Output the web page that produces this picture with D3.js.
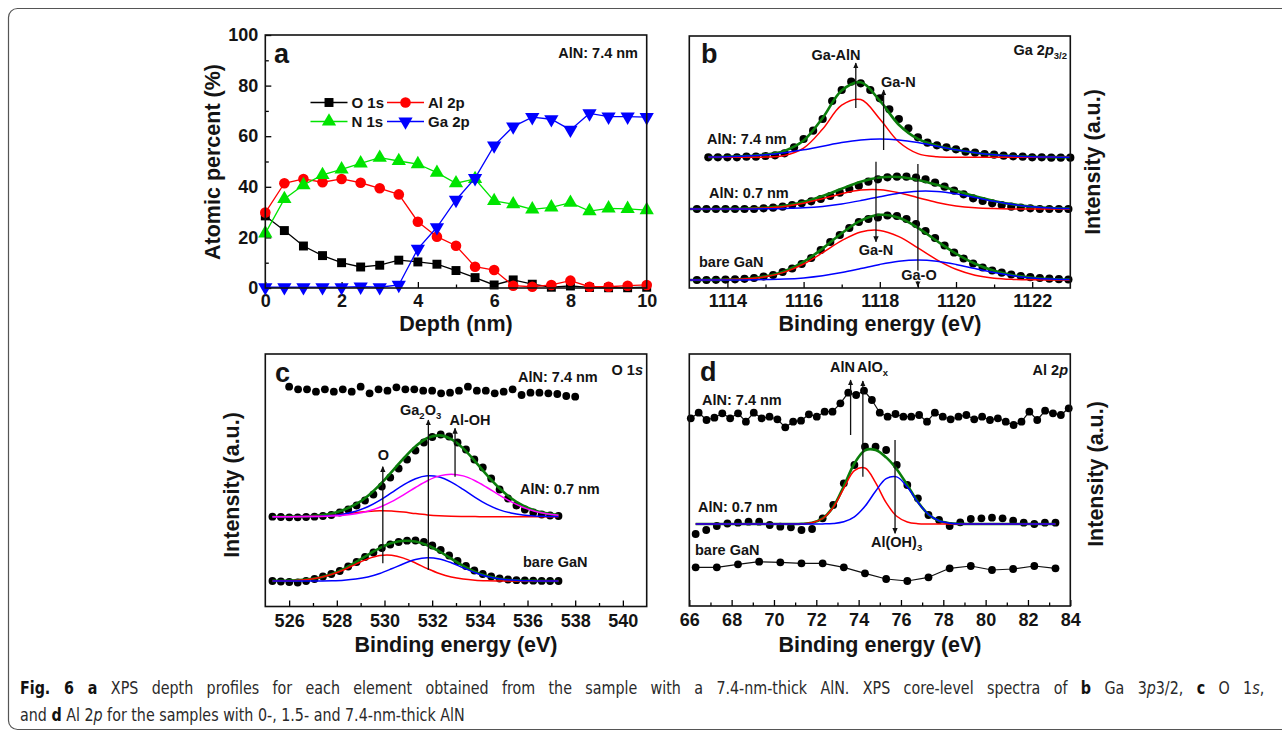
<!DOCTYPE html>
<html>
<head>
<meta charset="utf-8">
<title>Fig. 6 XPS</title>
<script src="https://cdn.jsdelivr.net/npm/d3@7/dist/d3.min.js"></script>
<style>
  body { margin: 0; background: #fff; }
  svg text { font-family: "Liberation Sans", Arial, sans-serif; font-weight: bold; fill: #141414; }
  svg text.caption { font-family: "Liberation Sans Narrow", "DejaVu Sans Condensed", "Liberation Sans", sans-serif; font-weight: normal; fill: #2a2a2a; }
</style>
</head>
<body>
<svg id="fig" width="1282" height="732"></svg>
<script>
// ---- panel a: depth profile (atomic %)
var depthNm = [0, 0.5, 1, 1.5, 2, 2.5, 3, 3.5, 4, 4.5, 5, 5.5, 6, 6.5, 7, 7.5, 8, 8.5, 9, 9.5, 10];
var o1s  = [28.5, 22.7, 16.6, 12.8, 10, 8.3, 9, 11, 10.3, 9.4, 6.9, 4.1, 1.2, 3.2, 1.5, 0.3, 0.8, 0.2, 0.1, 0.1, 0.3];
var al2p = [29.8, 41.4, 43.1, 41.8, 43.1, 41.6, 39.4, 37, 26.2, 20.3, 16.7, 8.4, 7.1, 0.9, 0.5, 1.2, 2.9, 0.5, 0.5, 0.9, 1.2];
var n1s  = [21.6, 35.2, 40.7, 44.7, 46.9, 49.3, 51.5, 50.2, 49, 45.6, 41.4, 43.1, 34.4, 33.1, 31.1, 31.9, 33.7, 30.4, 31.5, 31.3, 30.8];
var ga2p = [0.3, 0.3, 0.3, 0.3, 0.3, 0.5, 0.3, 1.2, 15.5, 24, 34.8, 43.4, 56.3, 63.8, 67.5, 66.7, 62.5, 69, 67.7, 67.7, 67.5];
var seriesNames = ["O 1s", "Al 2p", "N 1s", "Ga 2p"];

// ---- panel b: Ga 2p3/2 (intensity in arbitrary units)
var bTicks = [1114, 1116, 1118, 1120, 1122];
var bMinor = [1115, 1117, 1119, 1121];
var b74DotStart = 1113.5, b74DotStep = 0.25;
var b74Dots = [130.7, 130.7, 130.7, 130.7, 131.3, 131.3, 132, 132.7, 134.7, 140.7, 149, 157.3, 169, 187, 198, 206.3, 204.7, 198, 189.7, 178.7,
               169, 159.7, 150.7, 145.3, 142.7, 140.7, 138.7, 136.3, 135.3, 134, 133.3, 132.3, 131.7, 131.3, 130.7, 130.7, 130.3, 130.3, 130.3];
var b74FitStart = 1113.5, bFitStart = 1113, bFitStep = 0.5;
var b74Red   = [130.7, 130.7, 130.7, 130.9, 132.5, 139.9, 158.9, 182.8, 188.4, 169.0, 146.0, 134.4, 131.2, 130.7, 130.7, 130.7, 130.7, 130.7, 130.7, 130.7];
var b74Blue  = [130.9, 131.2, 131.9, 133.2, 135.3, 138.2, 141.8, 145.4, 148.0, 149.0, 148.0, 145.4, 141.8, 138.2, 135.3, 133.2, 131.9, 131.2, 130.9, 130.8];
var b74Green = [130.9, 131.2, 131.9, 133.4, 137.1, 147.4, 170.0, 197.5, 205.7, 187.3, 163.3, 149.1, 142.3, 138.2, 135.3, 133.2, 131.9, 131.2, 130.9, 130.8];
var bDotStart = 1113.2, bDotStep = 0.25;
var b07Dots = [79, 79, 79, 79, 79, 79, 79, 79.7, 80.3, 81.3, 83, 84.7, 86.7, 89, 92, 95.3, 99, 102.3, 106.3, 108.7,
               110.7, 111.3, 111.3, 110.3, 108.7, 105.3, 101.3, 97.3, 93.7, 89.7, 87, 84.7, 83, 81.3, 80.3, 79.7, 79, 79, 79, 79];
var b07Red   = [79, 79, 79.1, 79.3, 80, 81.6, 84.8, 89.3, 94.3, 97.9, 98.2, 95.2, 90.3, 85.6, 82.1, 80.2, 79.4, 79.1, 79, 79, 79];
var b07Blue  = [79, 79, 79, 79.1, 79.2, 79.5, 80.2, 81.6, 84, 87.4, 91.3, 94.8, 96.8, 96.6, 94.2, 90.5, 86.7, 83.5, 81.3, 80, 79.4];
var b07Green = [79, 79, 79.1, 79.4, 80.2, 82.1, 86, 91.9, 99.3, 106.3, 110.5, 111, 108.1, 103.2, 97.3, 91.7, 87.1, 83.6, 81.3, 80, 79.4];
var bBareDots = [8, 8, 8.2, 8.4, 8.7, 9.2, 10, 11.5, 13, 16, 19.5, 24, 30, 38, 46, 53, 60, 66, 69, 70.5,
                 72.5, 72, 69, 64, 57, 50, 42.5, 35.5, 29.5, 24.5, 20.5, 17.5, 15.3, 13.5, 12, 10.8, 10, 9.3, 8.8, 8.5];
var bBareRed   = [8, 8.1, 8.4, 9.2, 11.3, 15.9, 24, 35.3, 47.3, 56, 57.6, 51.4, 40.2, 28.2, 18.7, 12.8, 9.8, 8.6, 8.2, 8.1, 8];
var bBareBlue  = [8, 8, 8, 8.1, 8.4, 8.9, 10.1, 12.2, 15.4, 19.4, 23.6, 26.8, 28, 26.8, 23.6, 19.4, 15.4, 12.2, 10.1, 8.9, 8.4];
var bBareGreen = [8, 8.1, 8.4, 9.3, 11.7, 16.8, 26.1, 39.5, 54.7, 67.4, 73.2, 70.2, 60.2, 47, 34.3, 24.2, 17.2, 12.8, 10.3, 9, 8.4];

// ---- panel c: O 1s
var cTicks = [526, 528, 530, 532, 534, 536, 538, 540];
var cMinor = [527, 529, 531, 533, 535, 537, 539];
var c74DotStart = 526, c74DotStep = 0.375;
var c74Dots = [219.8, 217.2, 217.2, 214.8, 217.2, 214.8, 217.2, 214.8, 219.8, 213.2, 217.2, 215.8, 219.2, 217.2, 217.2, 215.8, 215.8,
               213.2, 213.8, 215.8, 219.8, 215.8, 215.8, 213.2, 214.8, 217.2, 211.5, 213.8, 213.8, 213.2, 212.5, 210.5, 209.8];
var cDotStart = 525.3, cDotStep = 12 / 34;
var c07Dots = [89.8, 89.5, 89.2, 89.2, 89.5, 89.8, 90.5, 91.5, 94, 97, 101, 106, 112, 120, 129, 138, 147, 156, 164, 169.5,
               172, 170, 164, 157, 147, 139, 128, 117, 108, 101, 97, 94, 92, 91, 90.5];
var cFitStart = 525.3, cFitStep = 0.5;
var c07Red   = [89.8, 89.8, 89.9, 90, 90.4, 91.2, 92.4, 93.8, 95.1, 95.8, 95.5, 94.4, 92.9, 91.6, 90.7, 90.2, 90, 89.9, 89.8, 89.8, 89.8, 89.8, 89.8, 89.8, 89.8];
var c07Blue  = [89.8, 89.8, 89.9, 90, 90.3, 91, 92.6, 95.3, 99.8, 106.2, 113.9, 121.7, 127.8, 130.7, 129.4, 124.4, 117.1, 109.1, 102.1, 96.9, 93.5, 91.5, 90.5, 90.1, 89.9];
var c07Mag   = [89.8, 89.8, 89.8, 89.9, 90.1, 90.5, 91.3, 92.8, 95.3, 99.3, 104.8, 111.6, 119, 125.8, 130.6, 132.3, 130.6, 125.8, 119, 111.6, 104.8, 99.3, 95.3, 92.8, 91.3];
var c07Green = [89.8, 89.8, 90, 90.3, 91.2, 93.1, 96.7, 102.3, 110.6, 121.7, 134.6, 148.1, 160.1, 168.5, 171.1, 167.3, 158.1, 145.2, 131.3, 118.7, 108.5, 101, 96, 93.1, 91.4];
var cBareDots = [25.5, 25, 24.5, 24, 25.5, 27.5, 30, 32.5, 35.5, 40, 44.5, 49.5, 54, 58.5, 62, 64.5, 65.8, 66, 64.5, 61,
                 56.5, 51, 45.5, 40.5, 36, 32.5, 30, 28, 27, 26.3, 26, 25.8, 25.6, 25.5, 25.5];
var cBareRed   = [25.6, 25.7, 26.1, 27.1, 29, 32.2, 36.8, 42.4, 47.6, 50.9, 51.2, 48.4, 43.5, 37.9, 33, 29.5, 27.4, 26.3, 25.8, 25.6, 25.5, 25.5, 25.5, 25.5, 25.5];
var cBareBlue  = [25.5, 25.5, 25.5, 25.5, 25.6, 25.8, 26.3, 27.4, 29.5, 33, 37.7, 42.8, 47, 48.8, 47.6, 43.8, 38.7, 33.8, 30.1, 27.7, 26.4, 25.8, 25.6, 25.5, 25.5];
var cBareGreen = [25.6, 25.7, 26.1, 27.1, 29.1, 32.5, 37.6, 44.3, 51.6, 58.4, 63.4, 65.7, 65, 61.2, 55.1, 47.8, 40.6, 34.6, 30.4, 27.8, 26.4, 25.8, 25.6, 25.5, 25.5];

// ---- panel d: Al 2p
var dTicks = [66, 68, 70, 72, 74, 76, 78, 80, 82, 84];
var dMinor = [67, 69, 71, 73, 75, 77, 79, 81, 83];
var d74DotStart = 66.07, d74DotStep = 0.372;
var d74Dots = [187.7, 193.3, 186, 188.3, 192.7, 187.7, 192.7, 184.3, 193.3, 187.7, 189.3, 186.7, 178.7, 184.3, 185.3, 191.7, 189.3,
               194.3, 194.3, 202.7, 213.3, 211, 215.3, 206, 193.3, 189.3, 192, 189.3, 189.3, 191, 184.3, 193.3, 189.3, 186.7,
               189.3, 191, 186.7, 189.3, 186, 187.7, 184.3, 181, 184.3, 194.3, 186, 195.3, 192.7, 191, 197.7];
var dDotStart = 66.3, dDotStep = 0.5;
var d07Dots = [72, 76, 80, 82.5, 83.3, 84.3, 84.3, 81, 79.3, 78.7, 76, 77, 87.7, 101, 122.7, 141, 159.3, 159.3, 156, 141,
               121, 107.7, 91, 86, 80, 83.7, 87, 87.7, 88.3, 87.7, 85.3, 83.3, 82, 83.3, 83.3];
var d07Red   = [82, 82, 82, 82, 82, 82, 82, 82, 82, 82, 82.2, 83.3, 87.5, 98.6, 117.6, 135.3, 138, 123.3, 103.3, 89.7, 84, 82.3,
                82, 82, 82, 82, 82, 82, 82, 82, 82, 82, 82, 82, 82];
var d07Blue  = [82, 82, 82, 82, 82, 82, 82, 82, 82, 82, 82, 82, 82.1, 82.5, 84.2, 89.2, 99.7, 114.7, 127.3, 129.1, 118.9, 103.7,
                91.6, 85.2, 82.8, 82.1, 82, 82, 82, 82, 82, 82, 82, 82, 82];
var d07Green = [82, 82, 82, 82, 82, 82, 82, 82, 82, 82, 82.2, 83.3, 87.6, 99.1, 119.8, 142.5, 155.7, 156, 148.6, 136.8, 120.9, 104,
                91.6, 85.2, 82.8, 82.1, 82, 82, 82, 82, 82, 82, 82, 82, 82];
var dBareStart = 66.3, dBareStep = 1;
var dBareDots = [38.7, 38.7, 41.7, 44.3, 43.7, 42.7, 42.7, 38.7, 32.7, 27, 25, 28.7, 37.7, 40, 36, 37, 40, 37.7];

var RED = "#ff0000", BLUE = "#0000ff", FITGREEN = "#0b7d0b", MAGENTA = "#ff00ff", LIME = "#00e400";

var svg = d3.select("#fig");
var defs = svg.append("defs");
defs.append("marker")
    .attr("id", "ah")
    .attr("viewBox", "0 0 10 10")
    .attr("refX", 9).attr("refY", 5)
    .attr("markerWidth", 6).attr("markerHeight", 6)
    .attr("markerUnits", "userSpaceOnUse")
    .attr("orient", "auto")
  .append("path")
    .attr("d", "M0,0.5 L10,5 L0,9.5 Z")
    .attr("fill", "#111");

// outer rounded box
svg.append("rect")
    .attr("x", 8.5).attr("y", 8.5)
    .attr("width", 1300).attr("height", 721)
    .attr("rx", 9)
    .attr("fill", "none")
    .attr("stroke", "#555")
    .attr("stroke-width", 1.2);

function grid(start, step, n) {
    return d3.range(n).map(function(i) { return start + i * step; });
}

function bottomAxis(x, y, major, minor, pad) {
    var y0 = y.range()[0];
    var gx = svg.append("g")
        .attr("transform", "translate(0," + y0 + ")")
        .call(d3.axisBottom(x).tickValues(major).tickSizeInner(-6).tickSizeOuter(0)
              .tickPadding(pad).tickFormat(d3.format("d")));
    gx.select(".domain").remove();
    gx.selectAll("text").attr("font-size", 18);
    gx.selectAll("line").attr("stroke-width", 1.3);
    var gm = svg.append("g")
        .attr("transform", "translate(0," + y0 + ")")
        .call(d3.axisBottom(x).tickValues(minor).tickSizeInner(-3.5).tickSizeOuter(0)
              .tickFormat(function() { return ""; }));
    gm.select(".domain").remove();
    gm.selectAll("line").attr("stroke-width", 1.3);
}

function frame(x, y) {
    var xr = x.range(), yr = y.range();
    svg.append("rect")
        .attr("x", xr[0]).attr("y", yr[1])
        .attr("width", xr[1] - xr[0]).attr("height", yr[0] - yr[1])
        .attr("fill", "none")
        .attr("stroke", "#111")
        .attr("stroke-width", 1.6);
}

function label(txt, x, y, size, anchor) {
    return svg.append("text")
        .attr("x", x).attr("y", y)
        .attr("font-size", size)
        .attr("text-anchor", anchor || "start")
        .text(txt);
}

function richLabel(parts, x, y, size, anchor) {
    var t = svg.append("text")
        .attr("x", x).attr("y", y)
        .attr("font-size", size)
        .attr("text-anchor", anchor || "start");
    parts.forEach(function(p) {
        var s = t.append("tspan").text(p.t);
        if (p.i) s.attr("font-style", "italic");
        if (p.sub) s.attr("font-size", p.sub).attr("dy", p.dy);
        if (p.up) s.attr("dy", p.up);
    });
    return t;
}

function vTitle(txt, cx, cy) {
    svg.append("text")
        .attr("transform", "translate(" + cx + "," + cy + ") rotate(-90)")
        .attr("text-anchor", "middle")
        .attr("dy", "0.36em")
        .attr("font-size", 21.5)
        .text(txt);
}

function dots(x, y, es, vals, r) {
    svg.append("g").selectAll("circle")
        .data(d3.zip(es, vals))
        .join("circle")
        .attr("cx", function(d) { return x(d[0]); })
        .attr("cy", function(d) { return y(d[1]); })
        .attr("r", r)
        .attr("fill", "#000");
}

function curve(x, y, es, vals, color, w, kind) {
    var line = d3.line()
        .x(function(d) { return x(d[0]); })
        .y(function(d) { return y(d[1]); })
        .curve(kind || d3.curveCatmullRom.alpha(0.5));
    svg.append("path")
        .datum(d3.zip(es, vals))
        .attr("d", line)
        .attr("fill", "none")
        .attr("stroke", color)
        .attr("stroke-width", w)
        .attr("stroke-linejoin", "round");
}

function arrow(x, y, e, i0, i1) {
    svg.append("line")
        .attr("x1", x(e)).attr("x2", x(e))
        .attr("y1", y(i0)).attr("y2", y(i1))
        .attr("stroke", "#111")
        .attr("stroke-width", 1.3)
        .attr("marker-end", "url(#ah)");
}

// ================= panel a =================
var xA = d3.scaleLinear().domain([0, 10]).range([265.3, 646.7]);
var yA = d3.scaleLinear().domain([0, 100]).range([288, 35]);

bottomAxis(xA, yA, [0, 2, 4, 6, 8, 10], [1, 3, 5, 7, 9], 6.5);
var gyA = svg.append("g")
    .attr("transform", "translate(" + xA.range()[0] + ",0)")
    .call(d3.axisLeft(yA).tickValues([0, 20, 40, 60, 80, 100]).tickSizeInner(-6).tickSizeOuter(0).tickPadding(7));
gyA.select(".domain").remove();
gyA.selectAll("text").attr("font-size", 18);
gyA.selectAll("line").attr("stroke-width", 1.3);
var gyAm = svg.append("g")
    .attr("transform", "translate(" + xA.range()[0] + ",0)")
    .call(d3.axisLeft(yA).tickValues([10, 30, 50, 70, 90]).tickSizeInner(-3.5).tickSizeOuter(0)
          .tickFormat(function() { return ""; }));
gyAm.select(".domain").remove();
gyAm.selectAll("line").attr("stroke-width", 1.3);

var aSeries = [
    {name: seriesNames[0], vals: o1s,  color: "#000",  sym: d3.symbolSquare,   size: 80, rot: 0},
    {name: seriesNames[1], vals: al2p, color: RED,     sym: d3.symbolCircle,   size: 88, rot: 0},
    {name: seriesNames[2], vals: n1s,  color: LIME,    sym: d3.symbolTriangle, size: 88, rot: 0},
    {name: seriesNames[3], vals: ga2p, color: BLUE,    sym: d3.symbolTriangle, size: 88, rot: 180}
];

aSeries.forEach(function(s) {
    var pts = d3.zip(depthNm, s.vals);
    svg.append("path")
        .datum(pts)
        .attr("d", d3.line().x(function(d) { return xA(d[0]); }).y(function(d) { return yA(d[1]); }))
        .attr("fill", "none")
        .attr("stroke", s.color)
        .attr("stroke-width", 1.3);
    svg.append("g").selectAll("path")
        .data(pts)
        .join("path")
        .attr("d", d3.symbol().type(s.sym).size(s.size))
        .attr("transform", function(d) {
            return "translate(" + xA(d[0]) + "," + yA(d[1]) + ") rotate(" + s.rot + ")";
        })
        .attr("fill", s.color);
});

// legend
var legendPos = [[310.5, 102.5], [387, 102.5], [310.5, 121.5], [387, 121.5]];
aSeries.forEach(function(s, i) {
    var lx = legendPos[i][0], ly = legendPos[i][1];
    svg.append("line")
        .attr("x1", lx).attr("x2", lx + 37).attr("y1", ly).attr("y2", ly)
        .attr("stroke", s.color).attr("stroke-width", 1.3);
    svg.append("path")
        .attr("d", d3.symbol().type(s.sym).size(s.size))
        .attr("transform", "translate(" + (lx + 18.5) + "," + ly + ") rotate(" + s.rot + ")")
        .attr("fill", s.color);
    label(s.name, lx + 41, ly + 5.4, 15);
});

frame(xA, yA);
label("a", 274, 63, 27);
label("AlN: 7.4 nm", 638, 58, 14.5, "end");
label("Depth (nm)", 456, 331, 21.5, "middle");
vTitle("Atomic percent (%)", 212, 162);

// ================= panel b =================
var xB = d3.scaleLinear().domain([1113, 1123]).range([689.3, 1070.3]);
var yB = d3.scaleLinear().domain([0, 252]).range([288, 36]);
bottomAxis(xB, yB, bTicks, bMinor, 6.5);

dots(xB, yB, grid(b74DotStart, b74DotStep, b74Dots.length), b74Dots, 4.1);
dots(xB, yB, grid(bDotStart, bDotStep, b07Dots.length), b07Dots, 4.1);
dots(xB, yB, grid(bDotStart, bDotStep, bBareDots.length), bBareDots, 4.1);

var eB74 = grid(b74FitStart, bFitStep, b74Green.length);
var eB = grid(bFitStart, bFitStep, b07Green.length);
curve(xB, yB, eB74, b74Green, FITGREEN, 2.6);
curve(xB, yB, eB74, b74Red, RED, 1.5);
curve(xB, yB, eB74, b74Blue, BLUE, 1.5);
curve(xB, yB, eB, b07Green, FITGREEN, 2.6);
curve(xB, yB, eB, b07Red, RED, 1.5);
curve(xB, yB, eB, b07Blue, BLUE, 1.5);
curve(xB, yB, eB, bBareGreen, FITGREEN, 2.6);
curve(xB, yB, eB, bBareRed, RED, 1.5);
curve(xB, yB, eB, bBareBlue, BLUE, 1.5);

arrow(xB, yB, 1117.37, 180, 225);
arrow(xB, yB, 1118.1, 138, 198);
arrow(xB, yB, 1117.9, 126.3, 46.3);
arrow(xB, yB, 1119.0, 124, 1.5);

frame(xB, yB);
label("b", 701, 63, 27);
richLabel([{t: "Ga 2"}, {t: "p", i: true}, {t: "3/2", sub: 9.5, dy: 4}], 1067, 55, 14.5, "end");
label("Ga-AlN", 836, 60, 14.5, "middle");
label("Ga-N", 881, 87, 14.5);
label("AlN: 7.4 nm", 707, 144, 14.5);
label("AlN: 0.7 nm", 709, 198, 14.5);
label("bare GaN", 699, 267, 14.5);
label("Ga-N", 876, 255, 14.5, "middle");
label("Ga-O", 919, 280, 14.5, "middle")
    .attr("stroke", "#fff").attr("stroke-width", 3).attr("paint-order", "stroke");
label("Binding energy (eV)", 880, 331, 21.5, "middle");
vTitle("Intensity (a.u.)", 1092, 162);

// ================= panel c =================
var xC = d3.scaleLinear().domain([525, 541]).range([265.3, 646.7]);
var yC = d3.scaleLinear().domain([0, 252.5]).range([606.5, 354]);
bottomAxis(xC, yC, cTicks, cMinor, 7.3);

dots(xC, yC, grid(c74DotStart, c74DotStep, c74Dots.length), c74Dots, 3.9);
dots(xC, yC, grid(cDotStart, cDotStep, c07Dots.length), c07Dots, 3.9);
dots(xC, yC, grid(cDotStart, cDotStep, cBareDots.length), cBareDots, 3.9);

var eC = grid(cFitStart, cFitStep, c07Green.length);
curve(xC, yC, eC, c07Green, FITGREEN, 2.6);
curve(xC, yC, eC, c07Red, RED, 1.5);
curve(xC, yC, eC, c07Blue, BLUE, 1.5);
curve(xC, yC, eC, c07Mag, MAGENTA, 1.5);
curve(xC, yC, eC, cBareGreen, FITGREEN, 2.6);
curve(xC, yC, eC, cBareRed, RED, 1.5);
curve(xC, yC, eC, cBareBlue, BLUE, 1.5);

arrow(xC, yC, 529.93, 43.2, 139.8);
arrow(xC, yC, 531.84, 36.5, 186.5);
arrow(xC, yC, 532.96, 129.8, 178.2);

frame(xC, yC);
label("c", 275, 382, 27);
label("AlN: 7.4 nm", 518, 381.5, 14.5);
richLabel([{t: "O 1"}, {t: "s", i: true}], 643, 375, 14.5, "end");
label("O", 383.3, 460, 14.5, "middle");
richLabel([{t: "Ga"}, {t: "2", sub: 9.5, dy: 4}, {t: "O", up: -4}, {t: "3", sub: 9.5, dy: 4}], 400, 415, 14.5);
label("Al-OH", 470, 425, 14.5, "middle");
label("AlN: 0.7 nm", 520, 494, 14.5);
label("bare GaN", 523, 567, 14.5);
label("Binding energy (eV)", 456, 652, 21.5, "middle");
vTitle("Intensity (a.u.)", 231, 485);

// ================= panel d =================
var xD = d3.scaleLinear().domain([66, 84]).range([689.3, 1070.3]);
var yD = d3.scaleLinear().domain([0, 252]).range([606, 354]);
bottomAxis(xD, yD, dTicks, dMinor, 7.3);

var eD74 = grid(d74DotStart, d74DotStep, d74Dots.length);
curve(xD, yD, eD74, d74Dots, "#111", 1.2, d3.curveLinear);
dots(xD, yD, eD74, d74Dots, 3.9);

dots(xD, yD, grid(dDotStart, dDotStep, d07Dots.length), d07Dots, 3.9);
var eD = grid(dDotStart, dDotStep, d07Green.length);
curve(xD, yD, eD, d07Green, FITGREEN, 2.6);
curve(xD, yD, eD, d07Red, RED, 1.5);
curve(xD, yD, eD, d07Blue, BLUE, 1.5);

var eDb = grid(dBareStart, dBareStep, dBareDots.length);
curve(xD, yD, eDb, dBareDots, "#111", 1.2, d3.curveLinear);
dots(xD, yD, eDb, dBareDots, 3.9);

arrow(xD, yD, 73.62, 171, 226);
arrow(xD, yD, 74.2, 129.3, 225);
arrow(xD, yD, 75.72, 166, 72.7);

frame(xD, yD);
label("d", 700, 381, 27);
label("AlN", 830, 372, 14.5);
richLabel([{t: "AlO"}, {t: "x", sub: 9.5, dy: 4}], 857, 372, 14.5);
label("AlN: 7.4 nm", 702, 405, 14.5);
label("AlN: 0.7 nm", 698, 511.5, 14.5);
label("bare GaN", 695, 555, 14.5);
richLabel([{t: "Al(OH)"}, {t: "3", sub: 9.5, dy: 4}], 871, 547, 14.5);
richLabel([{t: "Al 2"}, {t: "p", i: true}], 1068, 375, 14.5, "end");
label("Binding energy (eV)", 880, 652, 21.5, "middle");
vTitle("Intensity (a.u.)", 1095, 474);

// ================= caption (first line justified) =================
var capLine1 = [
    {t: "Fig. 6 a", b: true},
    {t: " XPS depth profiles for each element obtained from the sample with a 7.4-nm-thick AlN. XPS core-level spectra of "},
    {t: "b", b: true}, {t: " Ga 3"}, {t: "p", i: true}, {t: "3/2, "},
    {t: "c", b: true}, {t: " O 1"}, {t: "s", i: true}, {t: ","}
];
var capLine2 = [
    {t: "and "}, {t: "d", b: true}, {t: " Al 2"}, {t: "p", i: true},
    {t: " for the samples with 0-, 1.5- and 7.4-nm-thick AlN"}
];

function captionLine(parts) {
    var t = svg.append("text")
        .attr("class", "caption")
        .attr("font-size", 17);
    parts.forEach(function(p) {
        var s = t.append("tspan").text(p.t);
        if (p.b) s.attr("font-weight", "bold").style("fill", "#111");
        if (p.i) s.attr("font-style", "italic");
    });
    return t;
}

var cap1 = captionLine(capLine1);
var cap2 = captionLine(capLine2);
var sx = 445 / cap2.node().getComputedTextLength();
var target1 = 1245 / sx;
var nSpaces = capLine1.map(function(p) { return p.t; }).join("").split(" ").length - 1;
var ws = (target1 - cap1.node().getComputedTextLength()) / nSpaces;
cap1.attr("word-spacing", ws);
var got = cap1.node().getComputedTextLength();
if (Math.abs(got - target1) > 2) {
    ws = ws + (target1 - got) / nSpaces;
    cap1.attr("word-spacing", ws);
}
cap1.attr("transform", "translate(20,694) scale(" + sx + ",1)");
cap2.attr("transform", "translate(20,721) scale(" + sx + ",1)");
</script>
</body>
</html>
